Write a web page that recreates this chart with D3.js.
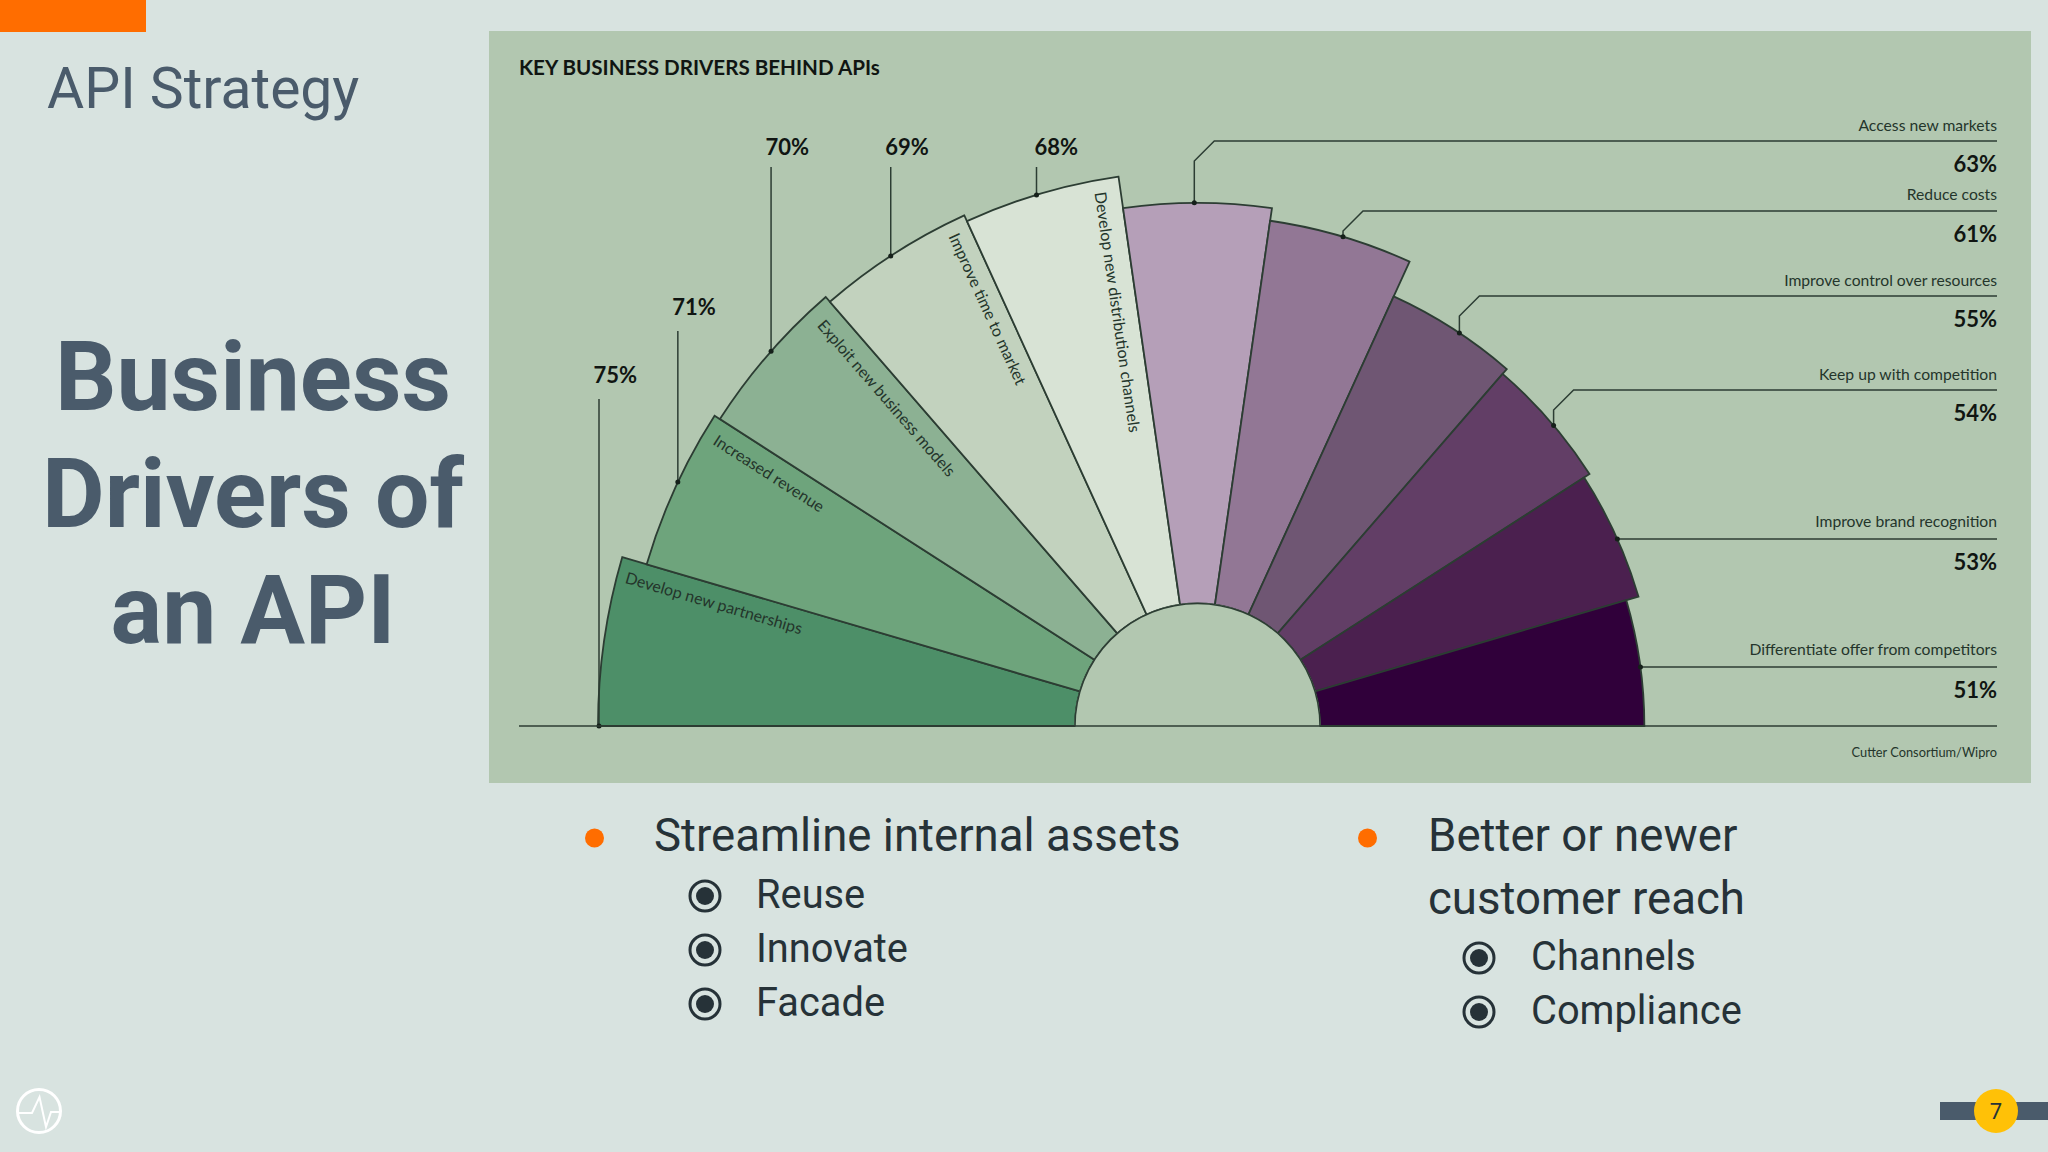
<!DOCTYPE html>
<html>
<head>
<meta charset="utf-8">
<script src="https://cdn.jsdelivr.net/npm/d3@7"></script>
<style>
  html, body { margin: 0; padding: 0; background: #d8e3e0; }
  svg { display: block; }
</style>
</head>
<body>
<svg id="slide" width="2048" height="1152"></svg>
<script>
// Chart data, left to right around the half circle
var categories = ["Develop new partnerships", "Increased revenue", "Exploit new business models",
  "Improve time to market", "Develop new distribution channels", "Access new markets", "Reduce costs",
  "Improve control over resources", "Keep up with competition", "Improve brand recognition",
  "Differentiate offer from competitors"];
var values = [75, 71, 70, 69, 68, 63, 61, 55, 54, 53, 51];
var sliceColours = ["#4d8f68", "#6ea47c", "#8cb193", "#c2d2be", "#d8e3d5", "#b59fb8",
  "#927795", "#6f5673", "#623e66", "#4b204f", "#30003a"];

// Slide text
var chartTitle = "KEY BUSINESS DRIVERS BEHIND APIs";
var chartSource = "Cutter Consortium/Wipro";
var slideHeading = "API Strategy";
var slideTitle = ["Business", "Drivers of", "an API"];
var leftBullet = ["Streamline internal assets"];
var leftSubBullets = ["Reuse", "Innovate", "Facade"];
var rightBullet = ["Better or newer", "customer reach"];
var rightSubBullets = ["Channels", "Compliance"];
var pageNumber = "7";

// Colours and fonts
var pageColour = "#d8e3e0";
var panelColour = "#b2c7b0";
var orangeColour = "#ff6d00";
var slateColour = "#4a5b6b";
var inkColour = "#263238";
var lineColour = "#2c3d33";
var chartFont = "Lato, sans-serif";
var slideFont = "Roboto, sans-serif";

// Chart geometry
var centreX = 1197.5;
var centreY = 726;
var chartLeft = 519;
var chartRight = 1997;

var svg = d3.select("#slide");

svg.append("rect").attr("width", 2048).attr("height", 1152).attr("fill", pageColour);
svg.append("rect").attr("width", 146).attr("height", 32).attr("fill", orangeColour);
svg.append("rect").attr("x", 489).attr("y", 31).attr("width", 1542).attr("height", 752).attr("fill", panelColour);

// Radius grows with the percentage, each slice gets an equal angle
var radius = d3.scaleLinear().domain([0, 100]).range([122.5, 758.5]);
var angle = d3.scaleBand().domain(categories).range([-Math.PI / 2, Math.PI / 2]);

var arc = d3.arc()
  .innerRadius(radius(0))
  .outerRadius(function (d, i) { return radius(values[i]); })
  .startAngle(function (d) { return angle(d); })
  .endAngle(function (d) { return angle(d) + angle.bandwidth(); });

var chart = svg.append("g").attr("transform", "translate(" + centreX + "," + centreY + ")");

chart.selectAll("path.slice")
  .data(categories)
  .enter().append("path")
  .attr("class", "slice")
  .attr("d", arc)
  .attr("fill", function (d, i) { return sliceColours[i]; })
  .attr("stroke", lineColour)
  .attr("stroke-width", 1.8)
  .attr("stroke-linejoin", "miter");

// Half disc in the middle covers the inner stroke
chart.append("path")
  .attr("d", d3.arc().innerRadius(0).outerRadius(radius(0)).startAngle(-Math.PI / 2).endAngle(Math.PI / 2)())
  .attr("fill", panelColour)
  .attr("stroke", panelColour);
chart.append("path")
  .attr("d", d3.arc().innerRadius(radius(0)).outerRadius(radius(0)).startAngle(-Math.PI / 2).endAngle(Math.PI / 2)())
  .attr("fill", "none")
  .attr("stroke", lineColour)
  .attr("stroke-width", 1.5);

// Names inside the five left slices, running along the upper edge
var insideNames = categories.slice(0, 5);
var insideGap = [9, 13, 16, 12.5, 12.5];
var insideDrop = [24, 25, 26, 23.5, 26];
chart.selectAll("text.inside")
  .data(insideNames)
  .enter().append("text")
  .attr("class", "inside")
  .attr("transform", function (d) {
    return "rotate(" + ((angle(d) + angle.bandwidth()) * 180 / Math.PI + 90) + ")";
  })
  .attr("x", function (d, i) { return -radius(values[i]) + insideGap[i]; })
  .attr("y", function (d, i) { return insideDrop[i]; })
  .attr("font-family", chartFont)
  .attr("font-size", 16)
  .attr("fill", "#24352b")
  .text(function (d) { return d; });

// Leader lines. leaderY is the level of the printed line, null means straight off the slice
var leaderY = {};
leaderY[categories[0]] = 399;
leaderY[categories[1]] = 331;
leaderY[categories[2]] = 167;
leaderY[categories[3]] = 167;
leaderY[categories[4]] = 167;
leaderY[categories[5]] = 141;
leaderY[categories[6]] = 211;
leaderY[categories[7]] = 296;
leaderY[categories[8]] = 390;

// The printed leaders do not sit exactly on the middle of the arc, degrees clockwise
var leaderShift = [0, 0.6, 0.4, -0.4, -0.5, -0.35, 0.2, 0.95, 0.75, 0.55, 0.6];

function anchorOf(d, i) {
  // the first slice hangs its leader on the base line, the others on the middle of the arc
  var a = i === 0 ? angle(d) : angle(d) + angle.bandwidth() / 2 + leaderShift[i] * Math.PI / 180;
  return {
    x: centreX + radius(values[i]) * Math.sin(a) + (i === 0 ? 1 : 0),
    y: centreY - radius(values[i]) * Math.cos(a)
  };
}

function leaderPath(d, i) {
  var p = anchorOf(d, i);
  var y = leaderY[d];
  var line = d3.line();
  if (i < 5) return line([[p.x, p.y], [p.x, y]]);
  if (y === undefined) return line([[p.x, p.y], [chartRight, p.y]]);
  return line([[p.x, p.y], [p.x, y + 20], [p.x + 20, y], [chartRight, y]]);
}

var leaders = svg.append("g");
leaders.selectAll("path")
  .data(categories)
  .enter().append("path")
  .attr("d", leaderPath)
  .attr("fill", "none")
  .attr("stroke", lineColour)
  .attr("stroke-width", 1.5);
leaders.selectAll("circle")
  .data(categories)
  .enter().append("circle")
  .attr("cx", function (d, i) { return anchorOf(d, i).x; })
  .attr("cy", function (d, i) { return anchorOf(d, i).y; })
  .attr("r", 2.5)
  .attr("fill", "#15201a");

// Percent labels
var labels = svg.append("g")
  .attr("font-family", chartFont)
  .attr("fill", "#101512");

labels.selectAll("text.pct")
  .data(categories)
  .enter().append("text")
  .attr("class", "pct")
  .attr("x", function (d, i) { return i < 5 ? anchorOf(d, i).x - (i === 4 ? 2 : 5.5) : chartRight; })
  .attr("y", function (d, i) {
    if (i < 5) return leaderY[d] - (i < 2 ? 16 : 12);
    var y = leaderY[d] === undefined ? anchorOf(d, i).y : leaderY[d];
    return y + 31;
  })
  .attr("text-anchor", function (d, i) { return i < 5 ? "start" : "end"; })
  .attr("font-size", 22)
  .attr("font-weight", 700)
  .text(function (d, i) { return values[i] + "%"; });

// Names of the right hand slices sit on the leader
var nameLift = [10, 11.5, 10, 10.5, 12.5, 12.5];
labels.selectAll("text.name")
  .data(categories.slice(5))
  .enter().append("text")
  .attr("class", "name")
  .attr("x", chartRight)
  .attr("y", function (d, i) {
    var y = leaderY[d] === undefined ? anchorOf(d, i + 5).y : leaderY[d];
    return y - nameLift[i];
  })
  .attr("text-anchor", "end")
  .attr("font-size", 15.7)
  .attr("fill", "#24352b")
  .text(function (d) { return d; });

// Base line, title, source
svg.append("line")
  .attr("x1", chartLeft).attr("x2", chartRight)
  .attr("y1", centreY).attr("y2", centreY)
  .attr("stroke", lineColour)
  .attr("stroke-width", 1.5);

svg.append("text")
  .attr("x", chartLeft).attr("y", 75)
  .attr("font-family", chartFont).attr("font-size", 20.6).attr("font-weight", 700)
  .attr("fill", "#101512")
  .text(chartTitle);

svg.append("text")
  .attr("x", chartRight).attr("y", 757)
  .attr("text-anchor", "end")
  .attr("font-family", chartFont).attr("font-size", 12.8)
  .attr("fill", "#24352b")
  .text(chartSource);

// Left column of the slide
svg.append("text")
  .attr("x", 47).attr("y", 108)
  .attr("font-family", slideFont).attr("font-size", 57)
  .attr("fill", slateColour)
  .text(slideHeading);

svg.selectAll("text.title")
  .data(slideTitle)
  .enter().append("text")
  .attr("class", "title")
  .attr("x", 253)
  .attr("y", function (d, i) { return 410 + i * 116.5; })
  .attr("text-anchor", "middle")
  .attr("font-family", slideFont).attr("font-size", 96.5).attr("font-weight", 700)
  .attr("fill", slateColour)
  .text(function (d) { return d; });

// Bullet lists
function drawBullets(lines, subLines, bulletX, textX, markX, subTextX, subBaseline) {
  var list = svg.append("g").attr("font-family", slideFont).attr("fill", inkColour);

  list.append("circle").attr("cx", bulletX).attr("cy", 838).attr("r", 9.5).attr("fill", orangeColour);

  list.selectAll("text.main")
    .data(lines)
    .enter().append("text")
    .attr("class", "main")
    .attr("x", textX)
    .attr("y", function (d, i) { return 851 + i * 63; })
    .attr("font-size", 45.6)
    .text(function (d) { return d; });

  var subs = list.selectAll("g.sub")
    .data(subLines)
    .enter().append("g")
    .attr("class", "sub")
    .attr("transform", function (d, i) { return "translate(0," + (subBaseline + i * 54) + ")"; });

  subs.append("circle").attr("cx", markX).attr("cy", -12).attr("r", 15)
    .attr("fill", "none").attr("stroke", inkColour).attr("stroke-width", 3);
  subs.append("circle").attr("cx", markX).attr("cy", -12).attr("r", 9).attr("fill", inkColour);
  subs.append("text").attr("x", subTextX).attr("font-size", 39.8).text(function (d) { return d; });
}

drawBullets(leftBullet, leftSubBullets, 594.5, 654, 705, 756, 908);
drawBullets(rightBullet, rightSubBullets, 1367.5, 1428, 1479, 1531, 970);

// Logo
svg.append("circle").attr("cx", 39).attr("cy", 1111).attr("r", 21.5)
  .attr("fill", "none").attr("stroke", "#fff").attr("stroke-width", 3);
svg.append("path")
  .attr("d", "M17,1113H32L39.5,1097L46,1127L51,1112H61")
  .attr("fill", "none").attr("stroke", "#fff").attr("stroke-width", 2);

// Page number
svg.append("rect").attr("x", 1940).attr("y", 1102).attr("width", 108).attr("height", 18).attr("fill", slateColour);
svg.append("circle").attr("cx", 1996).attr("cy", 1111).attr("r", 22).attr("fill", "#ffc107");
svg.append("text")
  .attr("x", 1996).attr("y", 1119)
  .attr("text-anchor", "middle")
  .attr("font-family", slideFont).attr("font-size", 22)
  .attr("fill", inkColour)
  .text(pageNumber);
</script>
</body>
</html>
